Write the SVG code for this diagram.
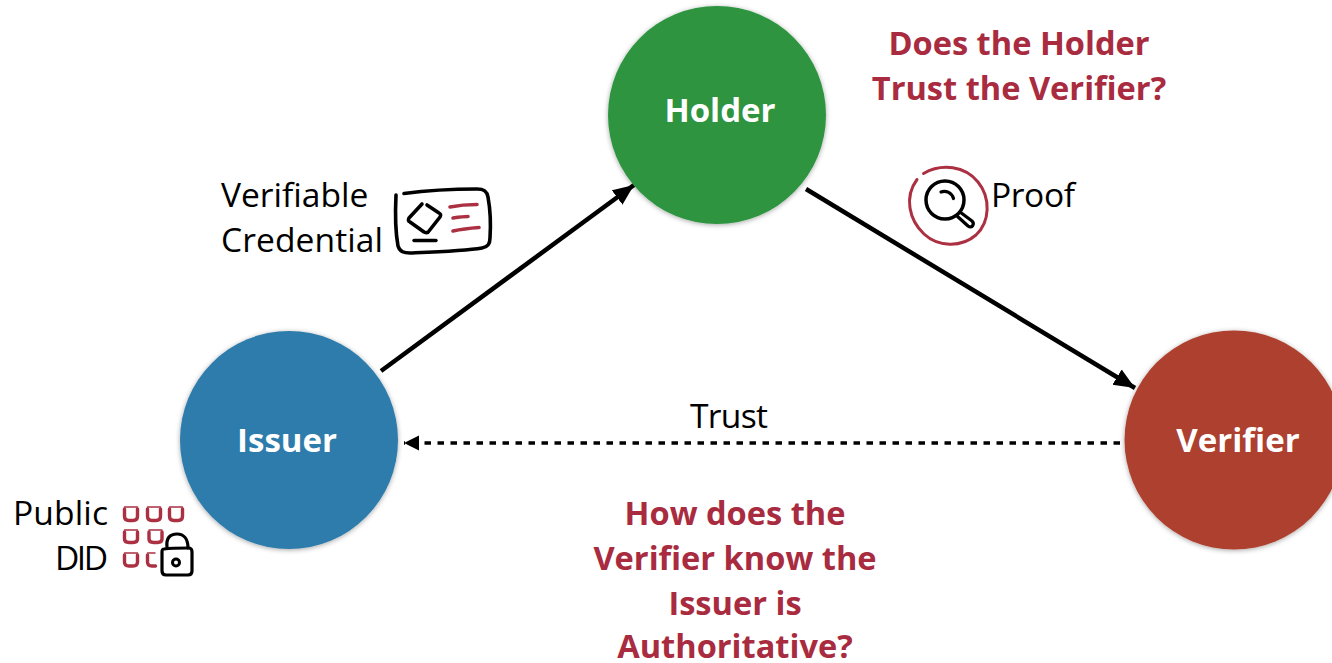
<svg xmlns="http://www.w3.org/2000/svg" width="1332" height="663" viewBox="0 0 1332 663">
<style>
text{font-family:"Open Sans","Noto Sans","Liberation Sans",sans-serif}
.lbl{font-size:33.600px;fill:#000}
.node{font-size:33px;font-weight:700;fill:#fff;text-anchor:middle}
.q{font-size:32.600px;font-weight:700;fill:#a92b40;text-anchor:middle}
.ink{fill:none;stroke:#000;stroke-linecap:round;stroke-linejoin:round}
.red{fill:none;stroke:#ab3041;stroke-linecap:round;stroke-linejoin:round}
.cell{stroke-width:3.400}
.lid{stroke-width:1.400}
</style>
<defs>
<filter id="sh" x="-10%" y="-10%" width="120%" height="120%"><feDropShadow dx="0" dy="1" stdDeviation="2.500" flood-color="#000" flood-opacity=".35"/></filter>
<marker id="ah" markerUnits="userSpaceOnUse" markerWidth="24" markerHeight="20" refX="21" refY="9" orient="auto"><path d="M0 0L21 9L0 18Z" fill="#000"/></marker>
<marker id="ad" markerUnits="userSpaceOnUse" markerWidth="16" markerHeight="16" refX="15" refY="7.500" orient="auto"><path d="M0 0L15 7.500L0 15Z" fill="#000"/></marker>
</defs>
<rect width="1332" height="663" fill="#fff"/>
<g id="connectors" fill="none" stroke="#000">
<path d="M381 371L634 185" stroke-width="4.500" marker-end="url(#ah)"/>
<path d="M806 189L1135 388" stroke-width="4.500" marker-end="url(#ah)"/>
<path d="M1125 443H404" stroke-width="3.500" stroke-dasharray="6.500 6.500" stroke-dashoffset="8" marker-end="url(#ad)"/>
</g>
<g id="holder"><circle cx="717" cy="115" r="109" fill="#2d9440" filter="url(#sh)"/><text class="node" x="720" y="122">Holder</text></g>
<g id="issuer"><circle cx="289" cy="440" r="109" fill="#2e7cab" filter="url(#sh)"/><text class="node" x="287" y="452">Issuer</text></g>
<g id="verifier"><circle cx="1234" cy="440" r="109.500" fill="#ad402d" filter="url(#sh)"/><text class="node" x="1238" y="452">Verifier</text></g>
<g id="credential-label">
<text class="lbl" x="221" y="207">Verifiable</text>
<text class="lbl" x="221" y="252" textLength="162">Credential</text>
<g id="credential-icon">
<path class="ink" stroke-width="3.600" d="M396 195C395 215 396 235 398 246C400 252 404 253 410 253C435 252 465 251 482 248C488 247 490 244 490 238C491 223 490 208 488 197C487 191 484 189 477 189C455 189 430 190 404 193.500"/>
<path class="ink" stroke-width="3.600" d="M422 204L409 218C408 220 408 221 410 222L424 232C426 233 428 233 429 231L440 217C441 215 441 214 439 213L427 205"/>
<path class="ink" stroke-width="3.400" d="M414 240.500H436"/>
<path class="red" stroke-width="3.600" d="M450 207C460 205 470 204.500 477 204.500M453 218C460 217 465 216.500 468 216.500M453 231C462 229 472 228 479 227.500"/>
</g>
</g>
<g id="proof-label">
<text class="lbl" x="991" y="207" textLength="84">Proof</text>
<g id="proof-icon">
<path class="red" stroke-width="3" d="M923.500 173.500C942 163 965 166 978 182C991 198 990 222 976 235C961 248 938 247 924 234C909 220 904 197 917 179.500"/>
<circle class="ink" cx="945" cy="200" r="19" stroke-width="3.500"/>
<path class="ink" stroke-width="3.200" d="M941 192C946 190 952 193 953.500 198.500"/>
<path class="ink" stroke-width="3.200" d="M960 212L972 221C975 224 972 229 968 226L957 216"/>
</g>
</g>
<g id="did-label">
<text class="lbl" x="13" y="525" textLength="95">Public</text>
<text class="lbl" x="55" y="570" textLength="53">DID</text>
<g id="did-icon">
<path class="red cell" d="M124.500 509V516C124.500 519.500 126 520.500 129 520.500H133C136 520.500 137.500 519.500 137.500 516V509"/>
<path class="red cell" d="M147.500 509V516C147.500 519.500 149 520.500 152 520.500H156C159 520.500 160.500 519.500 160.500 516V509"/>
<path class="red cell" d="M169.500 509V516C169.500 519.500 171 520.500 174 520.500H178C181 520.500 182.500 519.500 182.500 516V509"/>
<path class="red lid" d="M124.500 507H137.500M147.500 507H160.500M169.500 507H182.500M124.500 530H137.500M149 530H162M124.500 553H137.500M147.500 553H155"/>
<path class="red cell" d="M124.500 532V539C124.500 541.500 126 542.500 129 542.500H133C136 542.500 137.500 541.500 137.500 539V532"/>
<path class="red cell" d="M149 532V539C149 541.500 150.500 542.500 153.500 542.500H157.500C160.500 542.500 162 541.500 162 539V532"/>
<path class="red cell" d="M124.500 555V562C124.500 565 126 566 129 566H133C136 566 137.500 565 137.500 562V555"/>
<path class="red cell" d="M147.500 555V562C147.500 565 149 566 152 566H155.500"/>
</g>
<g id="lock-icon">
<path class="ink" stroke-width="3.200" d="M167 547C166 538 170 534 177 534C184 534 188 539 188 548"/>
<path class="ink" stroke-width="3.200" d="M164 549C171 548 182 548 189 548C191 548 192 550 192 552V571C192 574 190 575 188 575H166C163 575 162 573 162 571V552C162 550 162 549 164 549Z"/>
<circle class="ink" cx="176" cy="562.500" r="3.500" stroke-width="3"/>
</g>
</g>
<g id="trust-label"><text class="lbl" x="690" y="428" textLength="78">Trust</text></g>
<g id="question-top">
<text class="q" x="1019" y="55">Does the Holder</text>
<text class="q" x="1019" y="100">Trust the Verifier?</text>
</g>
<g id="question-bottom">
<text class="q" x="735" y="525">How does the</text>
<text class="q" x="735" y="570">Verifier know the</text>
<text class="q" x="735" y="615">Issuer is</text>
<text class="q" x="735" y="658">Authoritative?</text>
</g>
</svg>
